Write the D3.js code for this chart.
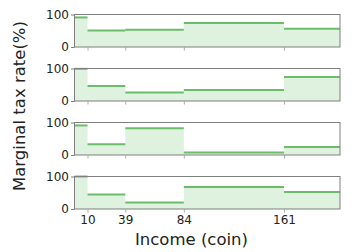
<!DOCTYPE html>
<html>
<head>
<meta charset="utf-8">
<script src="https://cdn.jsdelivr.net/npm/d3@7"></script>
<style>
  body { margin: 0; background: #fff; }
  svg { display: block; font-family: "DejaVu Sans", sans-serif; }
</style>
</head>
<body>
<svg id="chart" width="352" height="252"></svg>
<script>
// bracket edges (last edge is the axis limit)
const brackets = [0, 10, 39, 84, 161, 204];
const xTicks = [10, 39, 84, 161];
const yTicks = [0, 100];

// marginal rates per bracket, one array per panel
const rates1 = [91, 51, 53, 74, 56];
const rates2 = [99, 46, 26, 34, 74];
const rates3 = [91, 33, 82, 8, 25];
const rates4 = [100, 45, 20, 68, 52];
const panels = [rates1, rates2, rates3, rates4];

const svg = d3.select('#chart');
const left = 74.5, right = 340;
const panelH = 32.5, pitch = 54, top0 = 14.5;

const x = d3.scaleLinear().domain([0, 204]).range([left, right]);

const lineColor = '#6bbd6b';
const fillColor = '#dff1df';
const spine = '#7f7f7f';

panels.forEach((rates, p) => {
  const top = top0 + p * pitch;
  const y = d3.scaleLinear().domain([0, 100]).range([top + panelH, top]);
  const g = svg.append('g').attr('class', 'panel');

  const steps = rates.map((r, i) => ({ x0: brackets[i], x1: brackets[i + 1], r }));

  // filled step area
  const area = d3.area()
    .curve(d3.curveStepAfter)
    .x((d) => x(d.x))
    .y0(y(0))
    .y1((d) => y(d.r));
  const pts = steps.map((s) => ({ x: s.x0, r: s.r }));
  pts.push({ x: brackets[brackets.length - 1], r: rates[rates.length - 1] });
  g.append('path').attr('d', area(pts)).attr('fill', fillColor);

  // horizontal rate segments
  g.selectAll('line.rate')
    .data(steps)
    .enter()
    .append('line')
    .attr('class', 'rate')
    .attr('x1', (d) => x(d.x0))
    .attr('x2', (d) => x(d.x1))
    .attr('y1', (d) => y(d.r))
    .attr('y2', (d) => y(d.r))
    .attr('stroke', lineColor)
    .attr('stroke-width', 2);

  // frame
  g.append('rect')
    .attr('x', left).attr('y', top)
    .attr('width', right - left).attr('height', panelH)
    .attr('fill', 'none').attr('stroke', spine).attr('stroke-width', 1);

  // y axis
  const ya = g.append('g')
    .attr('transform', `translate(${left},0)`)
    .call(d3.axisLeft(y).tickValues(yTicks).tickSize(3.5).tickPadding(2));
  ya.select('.domain').remove();
  ya.selectAll('line').attr('stroke', spine);
  ya.selectAll('text').attr('font-size', 12).attr('fill', '#222').attr('font-family', 'DejaVu Sans');

  // x axis
  const xa = g.append('g')
    .attr('transform', `translate(0,${top + panelH})`)
    .call(d3.axisBottom(x).tickValues(xTicks).tickSize(3.5).tickPadding(3)
      .tickFormat(p === panels.length - 1 ? d3.format('d') : () => ''));
  xa.select('.domain').remove();
  xa.selectAll('line').attr('stroke', '#aaa');
  xa.selectAll('text').attr('font-size', 12).attr('fill', '#222').attr('font-family', 'DejaVu Sans');
});

svg.append('text')
  .attr('x', 191.5).attr('y', 245)
  .attr('text-anchor', 'middle')
  .attr('font-size', 16.5).attr('fill', '#222')
  .text('Income (coin)');

svg.append('text')
  .attr('transform', 'translate(25,106) rotate(-90)')
  .attr('text-anchor', 'middle')
  .attr('font-size', 16.5).attr('fill', '#222')
  .text('Marginal tax rate(%)');
</script>
</body>
</html>
